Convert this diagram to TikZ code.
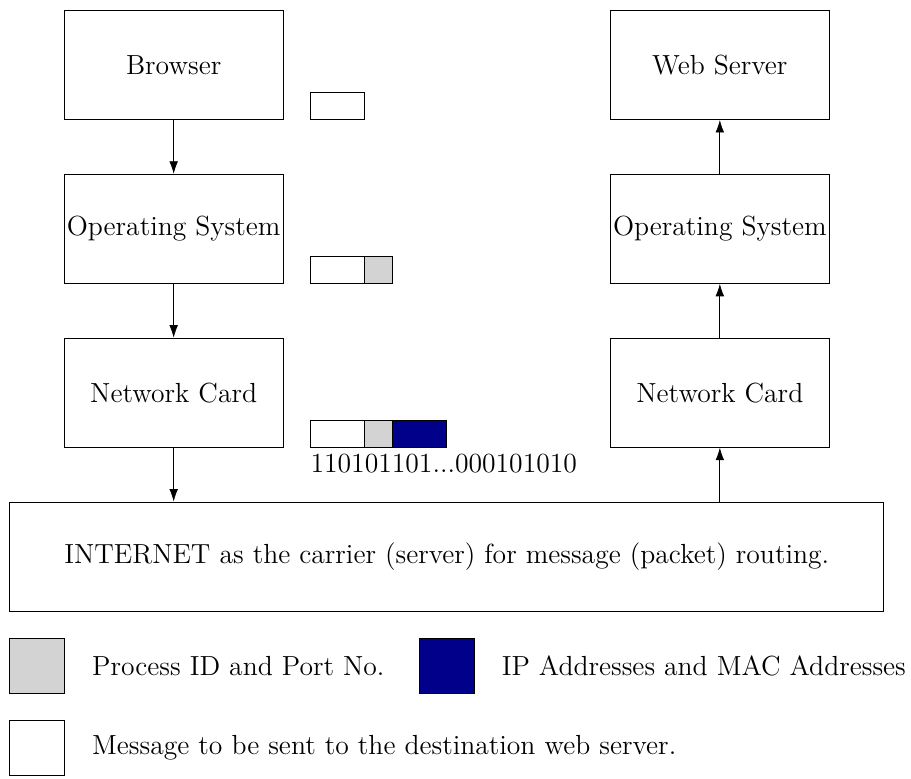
\documentclass[tikz,border=0pt]{standalone}
\usetikzlibrary{arrows.meta}
\definecolor{pidgray}{RGB}{211,211,211}
\definecolor{addrblue}{RGB}{0,0,139}
\begin{document}
\begin{tikzpicture}[>={Latex[length=6.5pt,width=4.5pt]},
    layer/.style={draw,minimum width=4cm,minimum height=2cm,inner sep=1pt,font=\Large},
    legendtext/.style={anchor=west,inner xsep=0pt,font=\Large}]
        \useasboundingbox (-0.18,-3.06) rectangle (16.5,11.19);
        % sender side
        \node[layer] (browser) at (3,10) {Browser};
        \node[layer] (osleft) at (3,7) {Operating System};
        \node[layer] (ncleft) at (3,4) {Network Card};
        % receiver side
        \node[layer] (server) at (13,10) {Web Server};
        \node[layer] (osright) at (13,7) {Operating System};
        \node[layer] (ncright) at (13,4) {Network Card};
        \node[draw,minimum width=16cm,minimum height=2cm,font=\Large] (internet) at (8,1)
            {INTERNET as the carrier (server) for message (packet) routing.};
        \draw[->] (browser) -- (osleft);
        \draw[->] (osleft) -- (ncleft);
        \draw[->] (ncleft) -- (ncleft.south |- internet.north);
        \draw[->] (ncright.south |- internet.north) -- (ncright);
        \draw[->] (ncright) -- (osright);
        \draw[->] (osright) -- (server);
        % packets
        \draw (5.5,9) rectangle (6.5,9.5);
        \draw (5.5,6) rectangle (6.5,6.5);
        \filldraw[fill=pidgray] (6.5,6) rectangle (7,6.5);
        \draw (5.5,3) rectangle (6.5,3.5);
        \filldraw[fill=pidgray] (6.5,3) rectangle (7,3.5);
        \filldraw[fill=addrblue] (7,3) rectangle (8,3.5);
        \node[anchor=north west,inner xsep=0pt,font=\Large] (bits) at (5.5,3) {110101101...000101010};
        % legend
        \filldraw[fill=pidgray] (0,-1.5) rectangle (1,-0.5);
        \node[legendtext] (pidtext) at (1.5,-1) {Process ID and Port No.};
        \filldraw[fill=addrblue] (7.5,-1.5) rectangle (8.5,-0.5);
        \node[legendtext] (addrtext) at (9,-1) {IP Addresses and MAC Addresses};
        \draw (0,-3) rectangle (1,-2);
        \node[legendtext] (msgtext) at (1.5,-2.5) {Message to be sent to the destination web server.};
    \end{tikzpicture}
\end{document}
